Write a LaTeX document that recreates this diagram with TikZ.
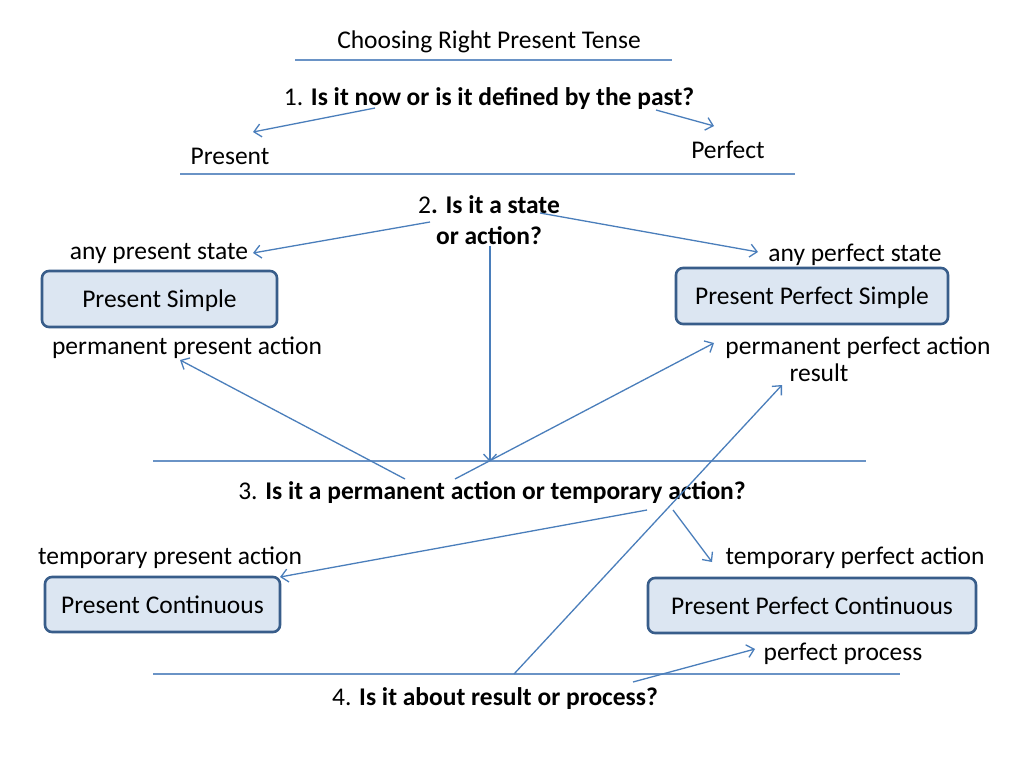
\documentclass[tikz,border=0pt]{standalone}
\usepackage{fontspec}
\setmainfont{Carlito}
\usetikzlibrary{arrows.meta}
\definecolor{arr}{HTML}{4A7EBB}
\definecolor{sep}{HTML}{6A93C6}
\definecolor{boxfill}{HTML}{DCE6F2}
\definecolor{boxdraw}{HTML}{385D8A}
\begin{document}
\begin{tikzpicture}[x=1pt,y=-1pt,
  txt/.style={inner sep=0pt,yshift=-2pt,font=\fontsize{25.5}{30}\selectfont},
  ttl/.style={inner sep=0pt,yshift=-1pt,font=\fontsize{25.5}{30}\selectfont},
  tbox/.style={draw=boxdraw,line width=2.6pt,fill=boxfill,rounded corners=7pt,inner sep=0pt,text depth=0pt,font=\fontsize{25.5}{30}\selectfont},
  sepline/.style={draw=sep,line width=1.2pt},
  conn/.style={draw=arr,line width=1.3pt,-{Straight Barb[length=7pt,width=13pt,line width=1.3pt]}}]
\useasboundingbox[fill=white] (0,0) rectangle (1024,767);
% title
\node[ttl] (title) at (489,41) {Choosing Right Present Tense};
\coordinate (t1) at (295,60); \coordinate (t2) at (672,60);
\draw[sepline] (t1) -- (t2);
% question 1
\node[txt] (q1) at (489,97) {1. \textbf{Is it now or is it defined by the past?}};
\node[txt] (present) at (230,154) {Present};
\node[txt] (perfect) at (728,148) {Perfect};
\coordinate (q1a) at (375,108); \coordinate (q1b) at (253,132);
\coordinate (q1c) at (656,110); \coordinate (q1d) at (714,126);
\draw[conn] (q1a) -- (q1b);
\draw[conn] (q1c) -- (q1d);
\coordinate (s1a) at (180,174); \coordinate (s1b) at (795,174);
\draw[sepline] (s1a) -- (s1b);
% question 2
\node[txt] (q2a) at (489,203) {2\textbf{. Is it a state}};
\node[txt] (q2b) at (489,234) {\textbf{or action?}};
\node[txt] (aps) at (159,251) {any present state};
\node[tbox,minimum width=235pt,minimum height=56pt] (ps) at (159.5,299) {Present Simple};
\node[txt] (ppa) at (187,346) {permanent present action};
\node[txt] (afs) at (855,253) {any perfect state};
\node[tbox,minimum width=272pt,minimum height=56pt] (pps) at (812,296) {Present Perfect Simple};
\node[txt] (pfa) at (858,346) {permanent perfect action};
\node[txt] (res) at (819,371) {result};
\coordinate (q2l) at (430,222); \coordinate (q2le) at (253,253);
\coordinate (q2r) at (540,213); \coordinate (q2re) at (758,252);
\coordinate (q2v) at (490,246); \coordinate (q2ve) at (490,462);
\draw[conn] (q2l) -- (q2le);
\draw[conn] (q2r) -- (q2re);
\draw[conn] (q2v) -- (q2ve);
\coordinate (s2a) at (153,461); \coordinate (s2b) at (866,461);
\draw[sepline] (s2a) -- (s2b);
% question 3
\node[txt] (q3) at (492,491) {3. \textbf{Is it a permanent action or temporary action?}};
\coordinate (q3l) at (405,479); \coordinate (q3le) at (180,360);
\coordinate (q3r) at (455,479); \coordinate (q3re) at (714,343);
\draw[conn] (q3l) -- (q3le);
\draw[conn] (q3r) -- (q3re);
\node[txt] (tpa) at (170,556) {temporary present action};
\node[tbox,minimum width=235pt,minimum height=55pt] (pc) at (162.5,604.5) {Present Continuous};
\node[txt] (tfa) at (855,556) {temporary perfect action};
\node[tbox,minimum width=328pt,minimum height=55pt] (ppc) at (812,605.5) {Present Perfect Continuous};
\coordinate (q3a) at (647,510); \coordinate (q3ae) at (280,577);
\coordinate (q3b) at (673,510); \coordinate (q3be) at (712,562);
\draw[conn] (q3a) -- (q3ae);
\draw[conn] (q3b) -- (q3be);
\node[txt] (pp) at (843,652) {perfect process};
\coordinate (s3a) at (153,674); \coordinate (s3b) at (900,674);
\draw[sepline] (s3a) -- (s3b);
% question 4
\node[txt] (q4) at (495,697) {4. \textbf{Is it about result or process?}};
\coordinate (q4r) at (514,674); \coordinate (q4re) at (782,385);
\coordinate (q4p) at (633,682); \coordinate (q4pe) at (755,649);
\draw[conn] (q4r) -- (q4re);
\draw[conn] (q4p) -- (q4pe);
\end{tikzpicture}
\end{document}
